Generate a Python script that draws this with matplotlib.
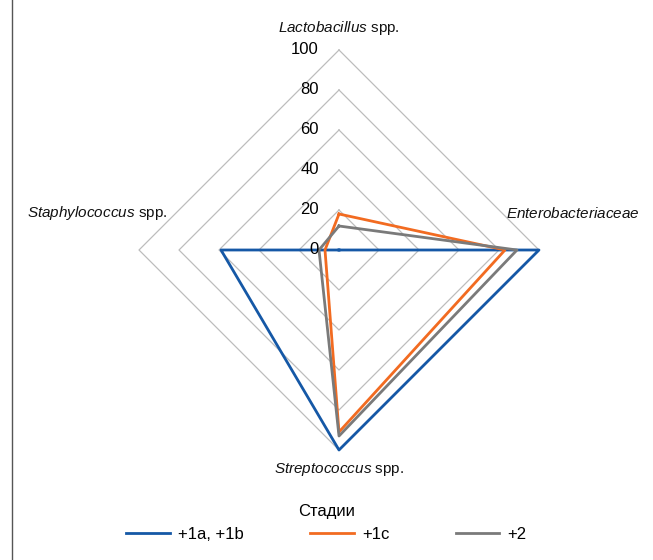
import numpy as np
import matplotlib
matplotlib.use("Agg")
import matplotlib.pyplot as plt
from matplotlib.lines import Line2D

# Microbiota composition by stage, % of samples
categories = ["Lactobacillus", "Enterobacteriaceae", "Streptococcus", "Staphylococcus"]
stage_labels = ["+1a, +1b", "+1c", "+2"]
stage_1ab = [0, 100, 100, 59]
stage_1c = [18, 83, 91, 7]
stage_2 = [12, 89, 93, 10]
r_ticks = [0, 20, 40, 60, 80, 100]

colors = ["#1558a6", "#f26b21", "#7a7a7a"]
grid_color = "#bdbdbd"

base = "Liberation Sans"
plt.rcParams["font.family"] = [base, "DejaVu Sans"]
plt.rcParams["mathtext.fontset"] = "custom"
plt.rcParams["mathtext.rm"] = base
plt.rcParams["mathtext.it"] = base + ":italic"

fig = plt.figure(figsize=(6.53, 5.6), dpi=100)
ax = fig.add_axes([139 / 653, 110 / 560, 400 / 653, 400 / 560], projection="polar")
ax.set_theta_offset(np.pi / 2)
ax.set_theta_direction(-1)
ax.set_ylim(0, 100)
ax.axis("off")

n = len(categories)
theta = np.arange(n) * 2 * np.pi / n
theta_closed = np.append(theta, theta[0])

# diamond-shaped grid
for r in r_ticks[1:]:
    ax.plot(theta_closed, [r] * (n + 1), color=grid_color, lw=0.9, clip_on=False, zorder=1)

for vals, col, lab in zip([stage_1ab, stage_1c, stage_2], colors, stage_labels):
    v = np.append(vals, vals[0])
    ax.plot(theta_closed, v, color=col, lw=2.0, label=lab, clip_on=False, zorder=3)

for r in r_ticks:
    ax.annotate(str(r), xy=(0, r), xytext=(-20, 0), textcoords="offset pixels",
                ha="right", va="center", fontsize=12, color="black")

cat_text = [
    r"$\mathit{Lactobacillus}$ spp.",
    r"$\mathit{Enterobacteriaceae}$",
    r"$\mathit{Streptococcus}$ spp.",
    r"$\mathit{Staphylococcus}$ spp.",
]
offsets = [(0, 22), (34, 37), (0, -19), (-42, 37)]
for t, txt, off in zip(theta, cat_text, offsets):
    ax.annotate(txt, xy=(t, 100), xytext=off, textcoords="offset pixels",
                ha="center", va="center", fontsize=11, color="#111111")

leg = fig.legend(loc="center", bbox_to_anchor=(0.5, 1 - 523 / 560), ncol=3, frameon=False,
                 title="Стадии", fontsize=12, title_fontsize=12,
                 handlelength=2.6, handletextpad=0.5, columnspacing=4.0)

fig.add_artist(Line2D([12 / 653, 12 / 653], [0, 1], color="#555555", lw=1.0))

fig.savefig("out.png", dpi=100)
